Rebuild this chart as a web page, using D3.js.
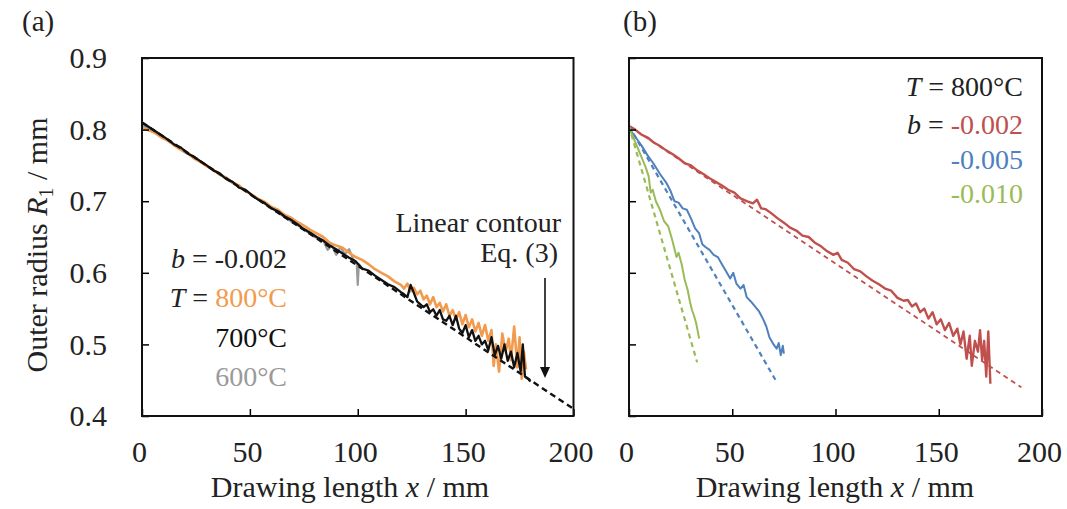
<!DOCTYPE html>
<html><head><meta charset="utf-8">
<script src="https://cdn.jsdelivr.net/npm/d3@7"></script>
<style>
body{margin:0;background:#fff;}
svg{display:block;font-family:"Liberation Serif","Times New Roman",serif;}
</style></head>
<body><svg id="c" width="1067" height="509"></svg>
<script>
// ---------- data ----------
const xTicks = [0, 50, 100, 150, 200];
const yTicks = [0.4, 0.5, 0.6, 0.7, 0.8, 0.9];
const yTickLabels = ["0.4", "0.5", "0.6", "0.7", "0.8", "0.9"];

// Panel (a): b = -0.002, various temperatures
const a800x = [0,3,6,9,12,15,18,21,24,27,30,33,36,39,42,45,48,51,54,57,60,63,66,69,72,75,78,81,84,87,90,93,96,99,102,105,108,111,114,117,
  120,121.5,123,124.5,126,127.5,129,130.5,132,133.5,135,136.5,138,139.5,141,142.5,144,145.5,147,148.5,150,151.5,153,154.5,156,157.5,159,160.5,162,163,164,165.5,167,168.5,170,171,172.5,174,175,176,177,178];
const a800y = [0.803,0.799,0.796,0.789,0.785,0.778,0.772,0.768,0.760,0.755,0.749,0.744,0.737,0.733,0.726,0.722,0.714,0.709,0.703,0.699,0.692,0.688,0.681,0.677,0.671,0.666,0.660,0.655,0.650,0.642,0.638,0.635,0.628,0.622,0.618,0.612,0.605,0.600,0.595,0.588,
  0.583,0.578,0.585,0.574,0.579,0.570,0.575,0.563,0.568,0.556,0.566,0.552,0.558,0.546,0.556,0.540,0.548,0.535,0.545,0.528,0.541,0.524,0.535,0.518,0.530,0.512,0.527,0.505,0.520,0.470,0.500,0.462,0.515,0.490,0.508,0.478,0.525,0.468,0.510,0.452,0.490,0.465];
const a700x = [0,3,6,9,12,15,18,21,24,27,30,33,36,39,42,45,48,51,54,57,60,63,66,69,72,75,78,81,84,87,90,93,96,99,102,105,108,111,114,117,
  120,121.5,123,124.5,126,127.5,129,130.5,132,133.5,135,136.5,138,139.5,141,142.5,144,145.5,147,148.5,150,151.5,153,154.5,156,157.5,159,160.5,162,163.5,165,166.5,168,169.5,171,172.5,174,175.5,176.5,177.5,179,180];
const a700y = [0.810,0.804,0.798,0.792,0.786,0.779,0.775,0.767,0.762,0.756,0.750,0.743,0.739,0.731,0.727,0.719,0.716,0.708,0.702,0.697,0.690,0.686,0.679,0.674,0.668,0.661,0.656,0.650,0.645,0.638,0.633,0.627,0.621,0.616,0.606,0.603,0.596,0.590,0.584,0.580,
  0.573,0.570,0.566,0.583,0.572,0.560,0.556,0.552,0.556,0.545,0.549,0.540,0.548,0.535,0.533,0.540,0.527,0.540,0.522,0.516,0.527,0.510,0.520,0.505,0.512,0.500,0.505,0.492,0.510,0.485,0.498,0.480,0.500,0.477,0.490,0.468,0.488,0.462,0.500,0.455,0.452,0.448];
const a600x = [0,5,10,15,20,25,30,35,40,45,50,55,60,65,70,75,80,84,86,88,90,92,94,96,98,99.5,100,100.5,102];
const a600y = [0.806,0.797,0.788,0.778,0.768,0.760,0.749,0.740,0.729,0.720,0.711,0.700,0.691,0.680,0.670,0.661,0.650,0.645,0.632,0.638,0.625,0.636,0.626,0.633,0.618,0.614,0.583,0.612,0.606];
const aLineX = [0, 200];
const aLineY = [0.81, 0.41];

// Panel (b): T = 800°C, various b
const bRedX = [0,3,6,9,12,15,18,21,24,27,30,33,36,39,42,45,48,51,54,57,60,62,64,66,69,72,75,78,81,84,87,90,93,96,99,101,103,106,109,112,115,118,121,124,127,130,133,135,137,139,141,143,145,147,149,151,153,155,157,159,160.5,162,163.5,165,166,167.5,169,170,171,172,173,174,175];
const bRedY = [0.805,0.800,0.793,0.789,0.782,0.777,0.771,0.766,0.760,0.753,0.750,0.743,0.738,0.732,0.727,0.722,0.716,0.712,0.704,0.700,0.697,0.702,0.690,0.689,0.683,0.676,0.670,0.663,0.659,0.652,0.650,0.642,0.637,0.630,0.625,0.628,0.618,0.614,0.605,0.602,0.595,0.589,0.584,0.578,0.575,0.565,0.561,0.562,0.553,0.557,0.545,0.550,0.536,0.545,0.528,0.535,0.520,0.530,0.512,0.522,0.500,0.518,0.480,0.512,0.470,0.505,0.490,0.520,0.478,0.505,0.455,0.518,0.445];
const bRedLineX = [0, 190];
const bRedLineY = [0.805, 0.440];
const bBlueX = [0,3,6,9,12,15,18,20,22,24,26,28,30,32,34,35.5,37,39,41,43,45,47,49,50.5,52,54,55.5,57,59,61,63,65,66.5,68,70,71.5,72.5,73.5,74.5,75];
const bBlueY = [0.802,0.790,0.778,0.764,0.752,0.738,0.726,0.715,0.700,0.698,0.690,0.688,0.676,0.662,0.655,0.640,0.636,0.632,0.625,0.622,0.612,0.602,0.592,0.600,0.585,0.578,0.583,0.566,0.560,0.553,0.546,0.535,0.525,0.510,0.500,0.494,0.502,0.485,0.498,0.487];
const bBlueLineX = [0, 71];
const bBlueLineY = [0.805, 0.450];
const bGreenX = [0,2,4,6,8,9.5,10.5,11.5,13,15,17,19,21,23,24,25.5,27,28.5,29.5,30.5,31.5,32.5,33.5,34];
const bGreenY = [0.802,0.790,0.776,0.762,0.748,0.735,0.712,0.716,0.700,0.688,0.672,0.665,0.645,0.622,0.628,0.612,0.590,0.575,0.560,0.548,0.540,0.530,0.515,0.508];
const bGreenLineX = [0, 33];
const bGreenLineY = [0.805, 0.475];

// ---------- drawing ----------
const svg = d3.select("#c");
const plotTop = 58, plotBottom = 416;
const panels = [
  {left: 142, right: 573.5, label: "(a)", labelX: 22, yLabels: true, titleX: 350},
  {left: 629, right: 1042, label: "(b)", labelX: 623, yLabels: false, titleX: 835}
];
const zip = (xs, ys) => xs.map((x, i) => [x, ys[i]]);

panels.forEach((p, pi) => {
  const x = d3.scaleLinear().domain([0, 200]).range([p.left, p.right]);
  const y = d3.scaleLinear().domain([0.4, 0.9]).range([plotBottom, plotTop]);
  p.x = x; p.y = y;
  const cid = "clip" + pi;
  svg.append("clipPath").attr("id", cid).append("rect")
    .attr("x", p.left).attr("y", plotTop).attr("width", p.right - p.left).attr("height", plotBottom - plotTop);
  p.plot = svg.append("g").attr("clip-path", `url(#${cid})`);

  const xa = svg.append("g").attr("transform", `translate(0,${plotBottom})`)
    .call(d3.axisBottom(x).tickValues(xTicks).tickSize(-7).tickPadding(25).tickFormat(d3.format("d")));
  xa.select(".domain").remove();
  xa.selectAll("line").attr("stroke", "#000").attr("stroke-width", 1.5);
  xa.selectAll("text").attr("font-size", 30).attr("fill", "#222").attr("font-family", "Liberation Serif").attr("dx", -3);
  const ya = svg.append("g").attr("transform", `translate(${p.left},0)`)
    .call(d3.axisLeft(y).tickValues(yTicks).tickSize(-7).tickPadding(35)
      .tickFormat((d, i) => p.yLabels ? yTickLabels[i] : ""));
  ya.select(".domain").remove();
  ya.selectAll("line").attr("stroke", "#000").attr("stroke-width", 1.5);
  ya.selectAll("text").attr("font-size", 30).attr("fill", "#222").attr("font-family", "Liberation Serif");

  svg.append("rect").attr("x", p.left).attr("y", plotTop).attr("width", p.right - p.left).attr("height", plotBottom - plotTop)
    .attr("fill", "none").attr("stroke", "#111").attr("stroke-width", 2);

  svg.append("text").attr("x", p.labelX).attr("y", 31).attr("font-size", 29).attr("fill", "#222").text(p.label);

  const t = svg.append("text").attr("x", p.titleX).attr("y", 497).attr("text-anchor", "middle")
    .attr("font-size", 30).attr("fill", "#222");
  t.append("tspan").text("Drawing length ");
  t.append("tspan").attr("font-style", "italic").text("x");
  t.append("tspan").text(" / mm");
});

const yt = svg.append("text").attr("transform", "translate(47,245) rotate(-90)").attr("text-anchor", "middle")
  .attr("font-size", 30).attr("fill", "#222");
yt.append("tspan").text("Outer radius ");
yt.append("tspan").attr("font-style", "italic").text("R");
yt.append("tspan").attr("font-size", 20).attr("dy", 6).text("1");
yt.append("tspan").attr("dy", -6).text(" / mm");

function drawLine(p, xs, ys, color, width, dash) {
  const line = d3.line().x(d => p.x(d[0])).y(d => p.y(d[1]));
  p.plot.append("path").datum(zip(xs, ys)).attr("d", line).attr("fill", "none")
    .attr("stroke", color).attr("stroke-width", width).attr("stroke-linejoin", "round")
    .attr("stroke-dasharray", dash || null);
}

const pa = panels[0];
drawLine(pa, a600x, a600y, "#9a9a9a", 2.2);
drawLine(pa, a800x, a800y, "#f29b4e", 2.6);
drawLine(pa, a700x, a700y, "#111", 2.3);
drawLine(pa, aLineX, aLineY, "#111", 2.4, "6,4");

const pb = panels[1];
drawLine(pb, bRedLineX, bRedLineY, "#c0504d", 1.8, "5,4");
drawLine(pb, bRedX, bRedY, "#c0504d", 2.4);
drawLine(pb, bBlueX, bBlueY, "#4f81bd", 2);
drawLine(pb, bBlueLineX, bBlueLineY, "#4f81bd", 2.2, "5,4");
drawLine(pb, bGreenX, bGreenY, "#9bbb59", 2);
drawLine(pb, bGreenLineX, bGreenLineY, "#9bbb59", 2.2, "5,4");

function legendLine(x0, yb, parts) {
  const t = svg.append("text").attr("x", x0).attr("y", yb).attr("text-anchor", "end").attr("font-size", 28);
  parts.forEach(([s, c, it]) => t.append("tspan").attr("fill", c).attr("font-style", it ? "italic" : null).text(s));
}
legendLine(287, 268, [["b", "#222", true], [" = -0.002", "#222"]]);
legendLine(287, 307, [["T", "#222", true], [" = ", "#222"], ["800°C", "#f29b4e"]]);
legendLine(287, 347, [["700°C", "#111"]]);
legendLine(287, 386, [["600°C", "#9a9a9a"]]);

svg.append("text").attr("x", 561).attr("y", 232).attr("text-anchor", "end").attr("font-size", 28).attr("fill", "#222").text("Linear contour");
svg.append("text").attr("x", 558).attr("y", 262).attr("text-anchor", "end").attr("font-size", 28).attr("fill", "#222").text("Eq. (3)");
svg.append("line").attr("x1", 545).attr("y1", 278).attr("x2", 545).attr("y2", 368).attr("stroke", "#111").attr("stroke-width", 1.6);
svg.append("path").attr("d", "M540,367 L550,367 L545,378 Z").attr("fill", "#111");

legendLine(1023, 96, [["T", "#222", true], [" = 800°C", "#222"]]);
legendLine(1023, 134, [["b", "#222", true], [" = ", "#222"], ["-0.002", "#c0504d"]]);
legendLine(1023, 169, [["-0.005", "#4f81bd"]]);
legendLine(1023, 203, [["-0.010", "#9bbb59"]]);
</script></body></html>
